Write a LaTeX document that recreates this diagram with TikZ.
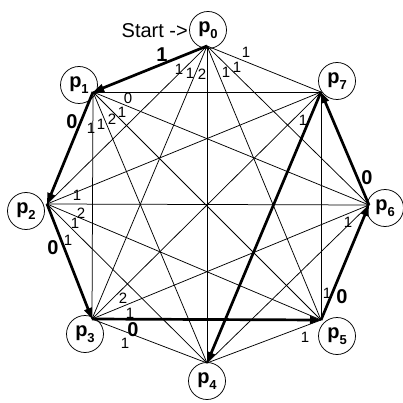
\documentclass[tikz,border=0pt]{standalone}
\usepackage{fontspec}
\setmainfont{Liberation Sans}
\usetikzlibrary{arrows.meta}
\begin{document}
\begin{tikzpicture}[x=1pt,y=-1pt,
  lightedge/.style={line width=0.75pt},
  heavyedge/.style={line width=2.7pt,-{Triangle[length=11pt,width=7.5pt]}},
  pnode/.style={circle,draw,line width=0.75pt,minimum size=37pt,inner sep=0pt,font=\fontsize{20}{20}\selectfont\bfseries},
  wlabel/.style={font=\fontsize{15}{15}\selectfont,inner sep=0pt},
  blabel/.style={font=\fontsize{20}{20}\selectfont\bfseries,inner sep=0pt}]
\useasboundingbox (0,0) rectangle (403,403);
\coordinate (v0) at (207,46);
\coordinate (v1) at (93,92);
\coordinate (v2) at (47,204);
\coordinate (v3) at (92,319);
\coordinate (v4) at (207,363);
\coordinate (v5) at (321,320);
\coordinate (v6) at (369,205);
\coordinate (v7) at (321,92);
\foreach \i in {0,...,6}{
  \pgfmathtruncatemacro\k{\i+1}
  \foreach \j in {\k,...,7}{
    \draw[lightedge] (v\i) -- (v\j);
  }
}
\draw[heavyedge] (v0) -- (v1);
\draw[heavyedge] (v1) -- (v2);
\draw[heavyedge] (v2) -- (v3);
\draw[heavyedge] (v3) -- (v5);
\draw[heavyedge] (v5) -- (v6);
\draw[heavyedge] (v6) -- (v7);
\draw[heavyedge] (v7) -- (v4);
\newcommand\psub[1]{p\raisebox{-0.3em}{\fontsize{13}{13}\selectfont #1}}
\node[pnode] (p0) at (208,30) {\psub{0}};
\node[pnode] (p1) at (79,85) {\psub{1}};
\node[pnode] (p2) at (26,211) {\psub{2}};
\node[pnode] (p3) at (85,334) {\psub{3}};
\node[pnode] (p4) at (207,381) {\psub{4}};
\node[pnode] (p5) at (337,336) {\psub{5}};
\node[pnode] (p6) at (385,208) {\psub{6}};
\node[pnode] (p7) at (337,81) {\psub{7}};
\node[anchor=east,font=\fontsize{20}{20}\selectfont,inner sep=0pt] (start) at (188,31) {Start ->};
% bold labels on path edges
\node[blabel] (b1) at (162,55) {1};
\node[blabel] (b2) at (72,122) {0};
\node[blabel] (b3) at (53,248) {0};
\node[blabel] (b4) at (133,330) {0};
\node[blabel] (b5) at (342,297) {0};
\node[blabel] (b6) at (367,178) {0};
% small labels
\node[wlabel] (a1) at (179,69) {1};
\node[wlabel] (a2) at (190,73) {1};
\node[wlabel] (a3) at (202,74) {2};
\node[wlabel] (a4) at (226,72) {1};
\node[wlabel] (a5) at (237,67) {1};
\node[wlabel] (a6) at (246,52) {1};
\node[wlabel] (c1) at (128,98) {0};
\node[wlabel] (c2) at (122,112) {1};
\node[wlabel] (c3) at (112,119) {2};
\node[wlabel] (c4) at (101,124) {1};
\node[wlabel] (c5) at (91,128) {1};
\node[wlabel] (d1) at (77,195) {1};
\node[wlabel] (d2) at (81,213) {2};
\node[wlabel] (d3) at (75,223) {1};
\node[wlabel] (d4) at (68,240) {1};
\node[wlabel] (e1) at (123,298) {2};
\node[wlabel] (e2) at (130,313) {1};
\node[wlabel] (e3) at (125,343) {1};
\node[wlabel] (f1) at (327,293) {1};
\node[wlabel] (f2) at (305,337) {1};
\node[wlabel] (g1) at (348,222) {1};
\node[wlabel] (h1) at (303,120) {1};
\end{tikzpicture}
\end{document}
